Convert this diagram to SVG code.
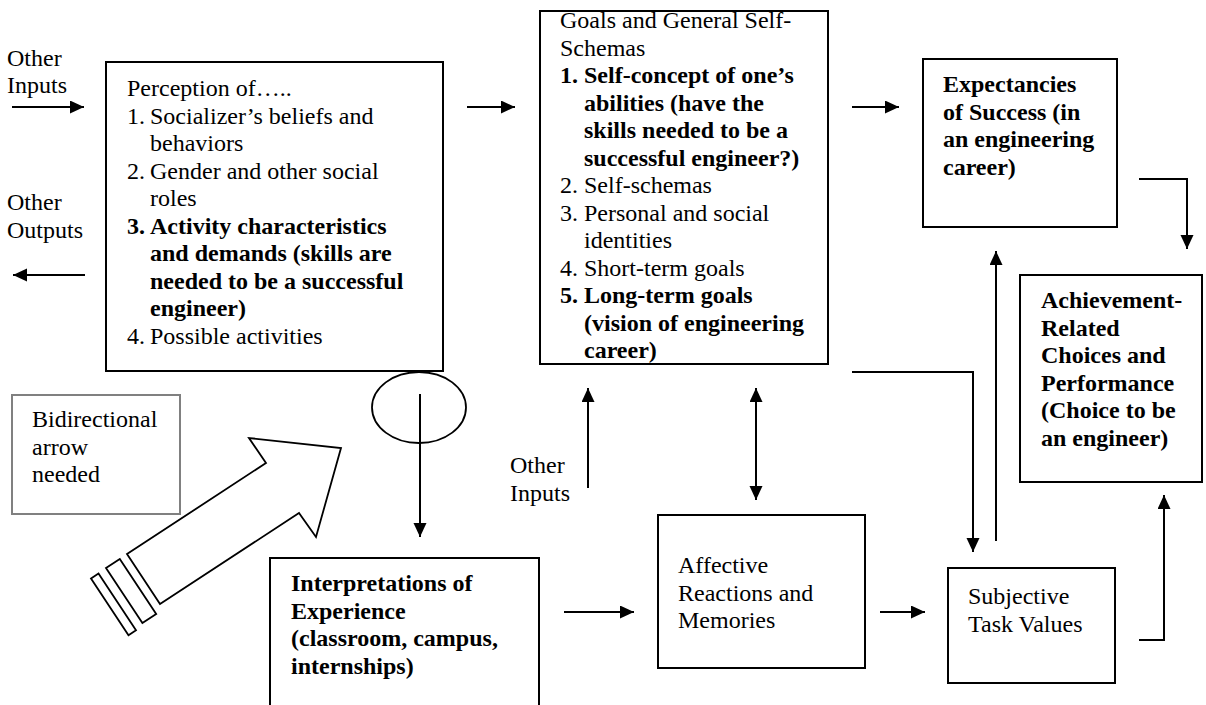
<svg xmlns="http://www.w3.org/2000/svg" width="1206" height="705" viewBox="0 0 1206 705">
<style>
.t{font-family:"Liberation Serif","Times New Roman",serif;font-size:24px;fill:#000}
.b{font-weight:bold}
.box{fill:#fff;stroke:#000;stroke-width:2}
.gbox{fill:#fff;stroke:#808080;stroke-width:2}
.c{stroke:#000;stroke-width:2;fill:none}
.big{fill:#fff;stroke:#000;stroke-width:1.8;stroke-linejoin:miter}
</style>
<defs>
<marker id="ah" markerUnits="userSpaceOnUse" markerWidth="14" markerHeight="14" refX="14" refY="6.5" orient="auto"><path d="M0,0 L14,6.5 L0,13 z" fill="#000"/></marker>
</defs>
<rect width="1206" height="705" fill="#fff"/>

<g id="other-inputs-left">
<text class="t" x="7" y="66">Other</text>
<text class="t" x="7" y="93">Inputs</text>
</g>
<g id="other-outputs-left">
<text class="t" x="7" y="210">Other</text>
<text class="t" x="7" y="238">Outputs</text>
</g>

<g id="perception">
<rect class="box" x="106" y="62" width="337" height="309"/>
<text class="t" x="127" y="96">Perception of…..</text>
<text class="t" x="127" y="123.5">1.</text><text class="t" x="150" y="123.5">Socializer’s beliefs and</text>
<text class="t" x="150" y="151">behaviors</text>
<text class="t" x="127" y="178.5">2.</text><text class="t" x="150" y="178.5">Gender and other social</text>
<text class="t" x="150" y="206">roles</text>
<text class="t b" x="127" y="233.5">3.</text><text class="t b" x="150" y="233.5">Activity characteristics</text>
<text class="t b" x="150" y="261">and demands (skills are</text>
<text class="t b" x="150" y="288.5">needed to be a successful</text>
<text class="t b" x="150" y="316">engineer)</text>
<text class="t" x="127" y="343.5">4.</text><text class="t" x="150" y="343.5">Possible activities</text>
</g>

<g id="goals">
<rect class="box" x="540" y="11" width="288" height="353"/>
<text class="t" x="560" y="28">Goals and General Self-</text>
<text class="t" x="560" y="55.5">Schemas</text>
<text class="t b" x="560" y="83">1.</text><text class="t b" x="584" y="83">Self-concept of one’s</text>
<text class="t b" x="584" y="110.5">abilities (have the</text>
<text class="t b" x="584" y="138">skills needed to be a</text>
<text class="t b" x="584" y="165.5">successful engineer?)</text>
<text class="t" x="560" y="193">2.</text><text class="t" x="584" y="193">Self-schemas</text>
<text class="t" x="560" y="220.5">3.</text><text class="t" x="584" y="220.5">Personal and social</text>
<text class="t" x="584" y="248">identities</text>
<text class="t" x="560" y="275.5">4.</text><text class="t" x="584" y="275.5">Short-term goals</text>
<text class="t b" x="560" y="303">5.</text><text class="t b" x="584" y="303">Long-term goals</text>
<text class="t b" x="584" y="330.5">(vision of engineering</text>
<text class="t b" x="584" y="358">career)</text>
</g>

<g id="expectancies">
<rect class="box" x="923" y="59" width="194" height="168"/>
<text class="t b" x="943" y="92">Expectancies</text>
<text class="t b" x="943" y="119.5">of Success (in</text>
<text class="t b" x="943" y="147">an engineering</text>
<text class="t b" x="943" y="174.5">career)</text>
</g>

<g id="achievement">
<rect class="box" x="1020" y="275" width="182" height="207"/>
<text class="t b" x="1041" y="308">Achievement-</text>
<text class="t b" x="1041" y="335.5">Related</text>
<text class="t b" x="1041" y="363">Choices and</text>
<text class="t b" x="1041" y="390.5">Performance</text>
<text class="t b" x="1041" y="418">(Choice to be</text>
<text class="t b" x="1041" y="445.5">an engineer)</text>
</g>

<g id="bidirectional-note">
<rect class="gbox" x="12" y="395" width="168" height="119"/>
<text class="t" x="32" y="427">Bidirectional</text>
<text class="t" x="32" y="454.5">arrow</text>
<text class="t" x="32" y="482">needed</text>
</g>

<g id="block-arrow">
<polygon class="big" points="127,554 266,463 249,438 341,448 316,537 299,513 160,604"/>
<polygon class="big" points="106,568 119.8,558.9 156.2,614.0 142.4,623.1"/>
<polygon class="big" points="91,578.4 98.5,573.5 136.0,630.3 128.5,635.2"/>
</g>

<g id="ellipse-mark">
<ellipse cx="419" cy="407.5" rx="47" ry="35.5" fill="none" stroke="#000" stroke-width="1.8"/>
</g>

<g id="interpretations">
<rect class="box" x="270" y="558" width="269" height="170"/>
<text class="t b" x="291" y="591">Interpretations of</text>
<text class="t b" x="291" y="618.5">Experience</text>
<text class="t b" x="291" y="646">(classroom, campus,</text>
<text class="t b" x="291" y="673.5">internships)</text>
</g>

<g id="other-inputs-mid">
<text class="t" x="510" y="473">Other</text>
<text class="t" x="510" y="501">Inputs</text>
</g>

<g id="affective">
<rect class="box" x="658" y="515" width="207" height="153"/>
<text class="t" x="678" y="573">Affective</text>
<text class="t" x="678" y="600.5">Reactions and</text>
<text class="t" x="678" y="628">Memories</text>
</g>

<g id="task-values">
<rect class="box" x="948" y="568" width="167" height="115"/>
<text class="t" x="968" y="604">Subjective</text>
<text class="t" x="968" y="631.5">Task Values</text>
</g>

<g id="connectors">
<line class="c" x1="12" y1="107" x2="84" y2="107" marker-end="url(#ah)"/>
<line class="c" x1="85" y1="275" x2="13" y2="275" marker-end="url(#ah)"/>
<line class="c" x1="467" y1="107" x2="515" y2="107" marker-end="url(#ah)"/>
<line class="c" x1="852" y1="107" x2="899" y2="107" marker-end="url(#ah)"/>
<polyline class="c" points="1139,179 1187,179 1187,249" marker-end="url(#ah)"/>
<line class="c" x1="420" y1="394" x2="420" y2="537" marker-end="url(#ah)"/>
<line class="c" x1="564" y1="612" x2="634" y2="612" marker-end="url(#ah)"/>
<line class="c" x1="880" y1="612" x2="925" y2="612" marker-end="url(#ah)"/>
<line class="c" x1="588" y1="488" x2="588" y2="388" marker-end="url(#ah)"/>
<line class="c" x1="756" y1="444" x2="756" y2="388" marker-end="url(#ah)"/>
<line class="c" x1="756" y1="444" x2="756" y2="500" marker-end="url(#ah)"/>
<polyline class="c" points="852,372 973,372 973,552" marker-end="url(#ah)"/>
<line class="c" x1="996" y1="541" x2="996" y2="251" marker-end="url(#ah)"/>
<polyline class="c" points="1139,640 1164,640 1164,495" marker-end="url(#ah)"/>
</g>
</svg>
